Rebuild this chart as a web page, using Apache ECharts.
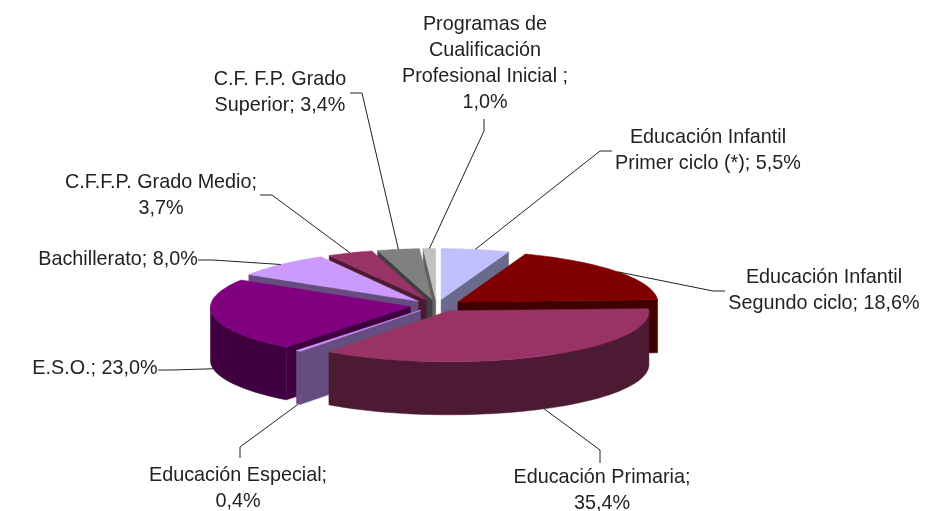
<!DOCTYPE html>
<html>
<head>
<meta charset="utf-8">
<style>html,body{margin:0;padding:0;background:#fff}#c{width:948px;height:511px}</style>
<script src="https://cdn.jsdelivr.net/npm/echarts@6/dist/echarts.min.js"></script>
</head>
<body>
<div id="c"></div>
<script>
const categories = ['Educación Infantil Primer ciclo (*)','Educación Infantil Segundo ciclo','Educación Primaria','Educación Especial','E.S.O.','Bachillerato','C.F.F.P. Grado Medio','C.F. F.P. Grado Superior','Programas de Cualificación Profesional Inicial'];
const values = [5.5,18.6,35.4,0.4,23.0,8.0,3.7,3.4,1.0];
const labels = ['Educación Infantil\nPrimer ciclo (*); 5,5%','Educación Infantil\nSegundo ciclo; 18,6%','Educación Primaria;\n35,4%','Educación Especial;\n0,4%','E.S.O.; 23,0%','Bachillerato; 8,0%','C.F.F.P. Grado Medio;\n3,7%','C.F. F.P. Grado\nSuperior; 3,4%','Programas de\nCualificación\nProfesional Inicial ;\n1,0%'];
const topColors = ['#c0c0ff','#800000','#993366','#cc99ff','#800080','#cc99ff','#993366','#808080','#c0c0c0'];
const sideColors = ['#6a6a8c','#400000','#4d1a33','#664d80','#400040','#664d80','#4d1a33','#404040','#606060'];
const labelCenters = [[708,150.5],[824,290.5],[602,491],[238,488.5],[95,369],[118,260],[161,195.5],[280,93],[485,64]];
const labelElbows = [[[600,151],[612,151]],[[713,291],[725,291]],[[600,450],[600,463]],[[240,447],[240,458]],[[172,370],[158,370]],[[213,260],[198,260]],[[272,195],[260,195]],[[362,93],[350,93]],[[484,131],[484,119]]];

const PIE = {cx:436.5, cy:305.5, rx:200, ry:51, depth:53, ex:26.5, ey:6, k:0.015};
const total = values.reduce((a,b)=>a+b,0);
const slices = [];
let acc = 0;
values.forEach((v,i)=>{
  const a0 = acc/total*Math.PI*2; acc += v;
  const a1 = acc/total*Math.PI*2;
  slices.push({i,a0,a1,mid:(a0+a1)/2});
});
const drawOrder = slices.slice().sort((p,q)=>Math.cos(q.mid)-Math.cos(p.mid));

function apex(s){
  return [PIE.cx+Math.sin(s.mid)*PIE.ex, PIE.cy-Math.cos(s.mid)*PIE.ey];
}
function rim(s,a){
  const c = apex(s);
  return [c[0]+Math.sin(a)*PIE.rx*(1-PIE.k*Math.cos(a)), c[1]-Math.cos(a)*PIE.ry];
}
function down(p){return [p[0],p[1]+PIE.depth];}
function arc(s,a0,a1){
  const n = Math.max(2,Math.ceil((a1-a0)/0.03));
  const pts=[];
  for(let j=0;j<=n;j++) pts.push(rim(s,a0+(a1-a0)*j/n));
  return pts;
}
function poly(points,fill){
  return {type:'polygon',shape:{points},style:{fill,stroke:fill,lineWidth:0.5}};
}
function renderSlice(params){
  const s = drawOrder[params.dataIndex];
  const c = apex(s), side = sideColors[s.i], ch=[];
  if(Math.sin(s.a0)<0){
    const t=rim(s,s.a0);
    ch.push(poly([c,t,down(t),down(c)],side));
  }
  if(Math.sin(s.a1)>0){
    const t=rim(s,s.a1);
    ch.push(poly([c,t,down(t),down(c)],side));
  }
  const w0=Math.max(s.a0,Math.PI/2), w1=Math.min(s.a1,Math.PI*1.5);
  if(w1>w0){
    const top=arc(s,w0,w1);
    ch.push(poly(top.concat(top.slice().reverse().map(down)),side));
  }
  ch.push(poly([c].concat(arc(s,s.a0,s.a1)),topColors[s.i]));
  return {type:'group',children:ch};
}
function renderLabel(params){
  const i=params.dataIndex, s=slices[i];
  let start=rim(s,s.mid);
  if(Math.cos(s.mid)<0) start=down(start);
  return {type:'group',children:[
    {type:'polyline',shape:{points:[start].concat(labelElbows[i])},style:{fill:null,stroke:'#222',lineWidth:1}},
    {type:'text',style:{text:labels[i],x:labelCenters[i][0],y:labelCenters[i][1],align:'center',verticalAlign:'middle',font:'19.8px "Liberation Sans", Arial, sans-serif',lineHeight:26,fill:'#222'}}
  ]};
}
const chart = echarts.init(document.getElementById('c'),null,{renderer:'canvas'});
chart.setOption({
  animation:false,
  backgroundColor:'#fff',
  series:[
    {type:'custom',coordinateSystem:'none',renderItem:renderSlice,data:drawOrder.map(s=>({name:categories[s.i],value:values[s.i]})),silent:true,z:1},
    {type:'custom',coordinateSystem:'none',renderItem:renderLabel,data:categories.map((n,i)=>({name:n,value:values[i]})),silent:true,z:2}
  ]
});
</script>
</body>
</html>
